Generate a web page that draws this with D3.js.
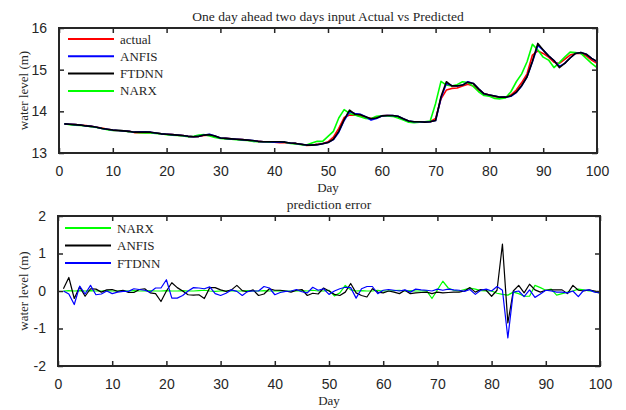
<!DOCTYPE html>
<html>
<head>
<meta charset="utf-8">
<script src="https://cdn.jsdelivr.net/npm/d3@7"></script>
<style>
  body { margin: 0; background: #fff; }
  .tick text { font-family: "Liberation Sans", Arial, sans-serif; font-size: 14px; fill: #262626; }
  .serif { font-family: "Liberation Serif", "Times New Roman", serif; fill: #262626; }
</style>
</head>
<body>
<svg id="chart" width="626" height="410"></svg>
<script>
// Dies 1..100
const days = d3.range(1, 101);

// Nivell real i prediccions (m)
const actual = [13.70,13.69,13.68,13.67,13.66,13.64,13.62,13.60,13.57,13.55,
  13.54,13.53,13.52,13.49,13.49,13.49,13.49,13.48,13.46,13.45,
  13.44,13.43,13.42,13.40,13.39,13.40,13.42,13.43,13.39,13.36,
  13.35,13.34,13.33,13.32,13.31,13.29,13.28,13.27,13.27,13.26,
  13.25,13.25,13.24,13.23,13.21,13.18,13.19,13.21,13.23,13.27,
  13.38,13.59,13.85,13.91,13.91,13.89,13.86,13.83,13.86,13.89,
  13.90,13.89,13.87,13.81,13.76,13.74,13.75,13.75,13.75,13.83,
  14.30,14.51,14.55,14.56,14.61,14.65,14.61,14.51,14.43,14.39,
  14.35,14.33,14.34,14.39,14.51,14.69,14.90,15.35,15.45,15.39,
  15.30,15.18,15.15,15.25,15.35,15.39,15.39,15.33,15.23,15.15];

const anfis = [13.70,13.69,13.68,13.67,13.65,13.64,13.62,13.59,13.57,13.55,
  13.54,13.53,13.52,13.50,13.51,13.51,13.50,13.48,13.46,13.45,
  13.44,13.43,13.42,13.40,13.39,13.40,13.43,13.45,13.41,13.36,
  13.35,13.34,13.33,13.32,13.31,13.30,13.28,13.27,13.27,13.26,
  13.26,13.26,13.24,13.23,13.21,13.19,13.19,13.20,13.22,13.25,
  13.32,13.50,13.78,13.99,13.95,13.93,13.87,13.79,13.83,13.89,
  13.90,13.90,13.88,13.82,13.77,13.75,13.75,13.74,13.75,13.78,
  14.32,14.67,14.62,14.61,14.63,14.71,14.67,14.54,14.42,14.39,
  14.37,14.34,14.34,14.36,14.45,14.61,14.83,15.19,15.58,15.47,
  15.33,15.22,15.08,15.15,15.28,15.39,15.41,15.37,15.27,15.19];

const ftdnn = [13.70,13.69,13.68,13.67,13.65,13.64,13.62,13.59,13.57,13.55,
  13.54,13.53,13.52,13.50,13.50,13.50,13.50,13.48,13.46,13.45,
  13.44,13.43,13.42,13.40,13.39,13.40,13.43,13.44,13.41,13.36,
  13.35,13.34,13.33,13.32,13.31,13.30,13.28,13.27,13.27,13.27,
  13.27,13.26,13.24,13.23,13.21,13.19,13.19,13.20,13.22,13.25,
  13.33,13.52,13.80,14.03,13.93,13.92,13.87,13.82,13.84,13.89,
  13.90,13.90,13.88,13.82,13.77,13.75,13.75,13.74,13.75,13.78,
  14.35,14.71,14.61,14.61,14.63,14.70,14.67,14.54,14.42,14.39,
  14.37,14.34,14.34,14.37,14.46,14.62,14.83,15.20,15.63,15.47,
  15.33,15.22,15.05,15.15,15.28,15.39,15.41,15.37,15.27,15.20];

const narx = [13.70,13.68,13.67,13.66,13.65,13.63,13.61,13.59,13.56,13.54,
  13.54,13.53,13.51,13.50,13.49,13.48,13.48,13.47,13.46,13.44,
  13.43,13.42,13.41,13.39,13.40,13.43,13.44,13.41,13.37,13.35,
  13.34,13.33,13.32,13.31,13.30,13.28,13.27,13.27,13.26,13.26,
  13.27,13.26,13.23,13.22,13.20,13.19,13.24,13.28,13.28,13.40,
  13.52,13.84,14.04,13.95,13.91,13.87,13.83,13.82,13.88,13.89,
  13.89,13.88,13.84,13.79,13.74,13.73,13.74,13.75,13.77,14.19,
  14.72,14.63,14.61,14.64,14.71,14.69,14.60,14.47,14.38,14.36,
  14.31,14.30,14.32,14.47,14.71,14.90,15.19,15.61,15.47,15.30,
  15.23,15.05,15.17,15.30,15.42,15.41,15.39,15.27,15.15,15.05];

// Errors de predicció (m)
const errNarx = [0.00,0.01,0.00,0.01,0.00,0.01,0.00,0.00,0.01,0.00,
  0.00,0.01,0.00,0.01,0.00,0.00,0.01,0.00,0.00,0.01,
  0.00,0.00,0.01,0.00,0.00,0.01,0.02,0.00,-0.01,0.00,
  0.00,0.01,0.00,0.00,0.01,0.00,0.00,0.01,0.00,0.00,
  0.01,0.00,0.00,0.00,0.01,0.00,0.02,0.00,0.00,0.02,
  -0.13,-0.05,0.15,0.03,0.00,0.01,0.00,0.00,0.02,0.00,
  0.00,0.01,0.02,0.00,0.01,0.00,0.00,0.01,-0.20,0.03,
  0.26,0.08,0.02,0.00,0.04,0.08,0.05,0.01,0.00,0.00,
  -0.06,-0.09,-0.11,-0.03,-0.07,-0.14,-0.14,0.15,0.09,0.02,
  0.05,-0.11,-0.07,-0.03,0.00,0.05,0.03,0.00,-0.01,-0.06];

const errAnfis = [0.06,0.36,-0.20,0.11,-0.14,0.06,0.05,-0.03,0.03,0.04,
  -0.01,0.02,-0.04,-0.04,0.04,0.06,-0.05,-0.07,-0.28,0.00,
  0.22,0.09,0.00,-0.10,-0.11,-0.10,-0.20,0.09,0.09,0.03,
  -0.01,0.03,0.15,0.01,-0.02,0.03,-0.12,-0.08,0.06,0.02,
  0.02,0.00,-0.03,0.02,0.04,-0.12,-0.06,-0.08,0.08,0.00,
  -0.09,-0.12,-0.03,0.20,-0.05,-0.12,-0.16,0.06,-0.03,-0.05,
  0.00,-0.03,-0.07,0.02,-0.07,-0.05,-0.04,-0.03,-0.07,-0.03,
  -0.05,-0.04,-0.03,-0.03,0.00,0.09,-0.03,0.04,0.02,-0.14,
  0.02,1.25,-0.85,0.00,0.15,-0.05,0.18,0.03,-0.03,0.02,
  0.03,0.03,0.03,-0.07,0.15,0.02,0.00,0.03,0.00,-0.05];

const errFtdnn = [0.00,-0.08,-0.36,0.13,-0.08,0.15,-0.10,-0.08,0.00,-0.07,
  -0.03,-0.01,-0.01,0.06,0.04,0.02,-0.03,0.08,0.08,0.30,
  -0.19,-0.19,-0.12,0.00,0.09,0.08,0.06,0.11,-0.07,-0.12,
  -0.06,0.03,-0.01,-0.12,-0.01,0.00,0.00,0.12,0.08,-0.10,
  -0.04,-0.01,0.00,0.04,-0.02,-0.05,0.10,0.02,0.06,-0.09,
  0.00,0.06,0.10,0.09,-0.19,0.06,0.12,0.12,-0.07,0.02,
  0.04,0.02,0.00,0.03,-0.03,0.05,0.03,0.02,0.00,0.05,
  0.02,0.05,0.03,0.02,-0.01,0.04,-0.09,0.02,0.05,0.00,
  0.12,0.02,-1.25,-0.03,0.00,-0.15,0.03,-0.17,-0.08,0.02,
  0.00,-0.03,-0.03,-0.05,0.00,-0.15,0.02,0.03,-0.03,-0.05];

const xTicks = d3.range(0, 101, 10);
const topYTicks = [13, 14, 15, 16];
const botYTicks = [-2, -1, 0, 1, 2];

const topSeries = [
  { name: "actual", values: actual, color: "#ff0000" },
  { name: "ANFIS", values: anfis, color: "#0000ff" },
  { name: "FTDNN", values: ftdnn, color: "#000000" },
  { name: "NARX", values: narx, color: "#00ff00" }
];
const botSeries = [
  { name: "NARX", values: errNarx, color: "#00ff00" },
  { name: "ANFIS", values: errAnfis, color: "#000000" },
  { name: "FTDNN", values: errFtdnn, color: "#0000ff" }
];

const svg = d3.select("#chart");
const axisColor = "#262626";
const fmt = d => String(d); // guió normal, com a MATLAB

function panel(box, yDomain, yTicks, series, title, lineW, drawOrder) {
  const x = d3.scaleLinear().domain([0, 100]).range([box.left, box.right]);
  const y = d3.scaleLinear().domain(yDomain).range([box.bottom, box.top]);
  const g = svg.append("g");

  // Línies de dades
  const line = d3.line().x((d, i) => x(days[i])).y(d => y(d));
  drawOrder.forEach(k => {
    const s = series[k];
    g.append("path")
     .datum(s.values)
     .attr("fill", "none")
     .attr("stroke", s.color)
     .attr("stroke-width", lineW)
     .attr("stroke-linejoin", "round")
     .attr("d", line);
  });

  // Eixos (ticks cap endins, com a MATLAB)
  const styleAxis = sel => {
    sel.selectAll(".domain").remove();
    sel.selectAll(".tick line").attr("stroke", axisColor).attr("stroke-width", 1.5);
  };
  g.append("g").attr("transform", `translate(0,${box.bottom})`)
   .call(d3.axisBottom(x).tickValues(xTicks).tickSize(-5).tickPadding(13).tickFormat(fmt))
   .call(styleAxis);
  g.append("g").attr("transform", `translate(0,${box.top})`)
   .call(d3.axisTop(x).tickValues(xTicks).tickSize(-5).tickFormat(""))
   .call(styleAxis);
  g.append("g").attr("transform", `translate(${box.left},0)`)
   .call(d3.axisLeft(y).tickValues(yTicks).tickSize(-5).tickPadding(12).tickFormat(fmt))
   .call(styleAxis);
  g.append("g").attr("transform", `translate(${box.right},0)`)
   .call(d3.axisRight(y).tickValues(yTicks).tickSize(-5).tickFormat(""))
   .call(styleAxis);
  g.selectAll(".tick text").attr("fill", axisColor);

  g.append("rect")
   .attr("x", box.left).attr("y", box.top)
   .attr("width", box.right - box.left).attr("height", box.bottom - box.top)
   .attr("fill", "none").attr("stroke", axisColor).attr("stroke-width", 2);

  // Títol i etiquetes
  g.append("text").attr("class", "serif")
   .attr("x", (box.left + box.right) / 2).attr("y", box.top - 7)
   .attr("text-anchor", "middle").style("font-size", "13.5px").text(title);
  g.append("text").attr("class", "serif")
   .attr("x", (box.left + box.right) / 2).attr("y", box.bottom + 39)
   .attr("text-anchor", "middle").style("font-size", "13px").text("Day");
  g.append("text").attr("class", "serif")
   .attr("transform", `translate(28,${(box.top + box.bottom) / 2}) rotate(-90)`)
   .attr("text-anchor", "middle").style("font-size", "13px").text("water level (m)");

  // Llegenda
  series.forEach((s, i) => {
    const ly = box.top + box.legTop + i * box.legStep;
    g.append("line")
     .attr("x1", box.left + box.legX).attr("x2", box.left + box.legX + 46)
     .attr("y1", ly).attr("y2", ly)
     .attr("stroke", s.color).attr("stroke-width", 2);
    g.append("text").attr("class", "serif")
     .attr("x", box.left + box.legX + 52).attr("y", ly + 4.5)
     .style("font-size", "13px").text(s.name);
  });
}

panel({ left: 59, right: 597, top: 28, bottom: 153, legX: 9, legTop: 11, legStep: 17.3 },
      [13, 16], topYTicks, topSeries,
      "One day ahead two days input Actual vs Predicted", 1.6, [0, 3, 1, 2]);

panel({ left: 58, right: 600, top: 216, bottom: 366, legX: 7, legTop: 12, legStep: 17.5 },
      [-2, 2], botYTicks, botSeries,
      "prediction error", 1.2, [0, 1, 2]);
</script>
</body>
</html>
